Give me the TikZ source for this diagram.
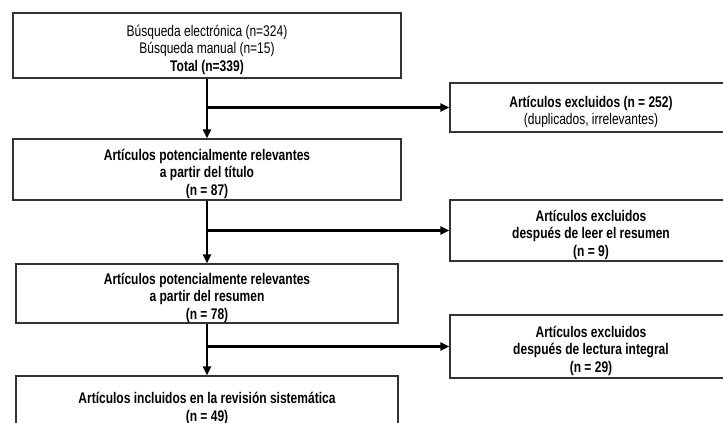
\documentclass[tikz,border=0pt]{standalone}
\usepackage{fontspec}
\setmainfont[FakeStretch=0.78]{Liberation Sans}
\usetikzlibrary{arrows.meta}
\tikzset{box/.style = {draw=black!80, line width=1.1pt, align=flush center, inner sep=0,
                       execute at begin node={\rule{0pt}{20pt}}}}
\tikzset{conn/.style = {line width=2.2pt, -{Triangle[length=9pt, width=8pt]}}}

\begin{document}
\begin{tikzpicture}[x=1pt, y=-1pt, font=\fontsize{15.4}{17.5}\selectfont]
    \useasboundingbox (0, 0) rectangle (723, 423);
    \clip (0, 0) rectangle (723, 423);
    \fill [white] (0, 0) rectangle (723, 423);

    % main column
    \node [box, text width=388pt, minimum height=65pt] (total) at (207, 45.5)
        {Búsqueda electrónica (n=324)\\ Búsqueda manual (n=15)\\ \textbf{Total (n=339)}};
    \node [box, text width=388pt, minimum height=61pt] (titulo) at (207, 169.5)
        {\textbf{Artículos potencialmente relevantes}\\ \textbf{a partir del título}\\ \textbf{(n = 87)}};
    \node [box, text width=382pt, minimum height=59pt] (resumen) at (207, 293.5)
        {\textbf{Artículos potencialmente relevantes}\\ \textbf{a partir del resumen}\\ \textbf{(n = 78)}};
    \node [box, text width=382pt, minimum height=56pt] (incluidos) at (207, 404)
        {\textbf{Artículos incluidos en la revisión sistemática}\\ \textbf{(n = 49)}};

    % excluded boxes
    \node [box, text width=282pt, minimum height=49pt] (excl1) at (591, 107.5)
        {\textbf{Artículos excluidos (n = 252)}\\ (duplicados, irrelevantes)};
    \node [box, text width=282pt, minimum height=61pt] (excl2) at (591, 230.5)
        {\textbf{Artículos excluidos}\\ \textbf{después de leer el resumen}\\ \textbf{(n = 9)}};
    \node [box, text width=282pt, minimum height=63pt] (excl3) at (591, 346.5)
        {\textbf{Artículos excluidos}\\ \textbf{después de lectura integral}\\ \textbf{(n = 29)}};

    \coordinate (b1) at (total.south |- excl1);
    \coordinate (b2) at (titulo.south |- excl2);
    \coordinate (b3) at (resumen.south |- excl3);

    \draw [conn] (total) -- (titulo);
    \draw [conn] (titulo) -- (resumen);
    \draw [conn] (resumen) -- (incluidos);
    \draw [conn] (b1) -- (excl1);
    \draw [conn] (b2) -- (excl2);
    \draw [conn] (b3) -- (excl3);
\end{tikzpicture}
\end{document}
